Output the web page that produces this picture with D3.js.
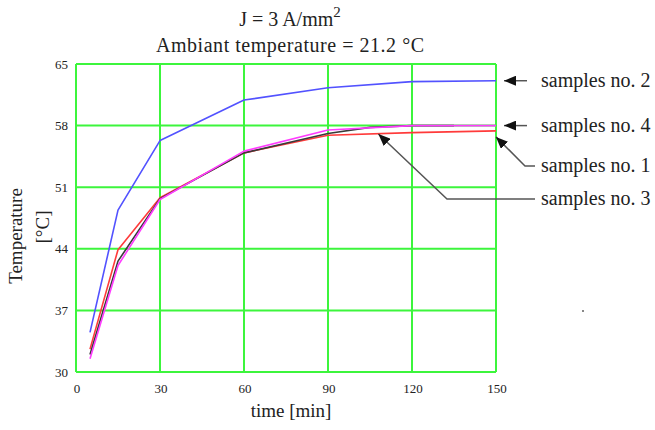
<!DOCTYPE html>
<html>
<head>
<meta charset="utf-8">
<script src="https://cdn.jsdelivr.net/npm/d3@7"></script>
<style>
  html, body { margin: 0; padding: 0; background: #fff; }
  svg text { font-family: "Liberation Serif", "Times New Roman", serif; fill: #222; }
</style>
</head>
<body>
<svg id="chart" width="655" height="430"></svg>
<script>
// Heating curves, temperature vs. time for four samples
const xTicks = [0, 30, 60, 90, 120, 150];
const yTicks = [30, 37, 44, 51, 58, 65];

const sample1Time = [5, 15, 30, 60, 90, 120, 150];
const sample1Temp = [32.6, 43.9, 49.8, 54.9, 56.9, 57.2, 57.4];

const sample2Time = [5, 15, 30, 60, 90, 120, 150];
const sample2Temp = [34.5, 48.4, 56.3, 60.9, 62.3, 63.0, 63.1];

const sample3Time = [5, 15, 30, 60, 90, 105, 120, 135];
const sample3Temp = [32.0, 42.6, 49.7, 54.9, 57.1, 57.8, 58.0, 58.0];

const sample4Time = [5, 15, 30, 60, 90, 120, 150];
const sample4Temp = [31.5, 42.1, 49.6, 55.1, 57.5, 58.0, 58.0];

const seriesNames = ["samples no. 1", "samples no. 2", "samples no. 3", "samples no. 4"];
const seriesColors = ["#ff3a3a", "#5252ff", "#3a3a3a", "#ff3cff"];

const series = [
  { name: seriesNames[0], color: seriesColors[0], pts: sample1Time.map((t, i) => [t, sample1Temp[i]]) },
  { name: seriesNames[1], color: seriesColors[1], pts: sample2Time.map((t, i) => [t, sample2Temp[i]]) },
  { name: seriesNames[2], color: seriesColors[2], pts: sample3Time.map((t, i) => [t, sample3Temp[i]]) },
  { name: seriesNames[3], color: seriesColors[3], pts: sample4Time.map((t, i) => [t, sample4Temp[i]]) }
];

const svg = d3.select("#chart");
const x = d3.scaleLinear().domain([0, 150]).range([76, 496]);
const y = d3.scaleLinear().domain([30, 65]).range([372, 64]);
const grid = "#3cf53c";

// grid and frame
svg.append("g").selectAll("line").data(xTicks).join("line")
  .attr("x1", d => x(d)).attr("x2", d => x(d))
  .attr("y1", y(30)).attr("y2", y(65))
  .attr("stroke", grid).attr("stroke-width", 2);
svg.append("g").selectAll("line").data(yTicks).join("line")
  .attr("x1", x(0)).attr("x2", x(150))
  .attr("y1", d => y(d)).attr("y2", d => y(d))
  .attr("stroke", grid).attr("stroke-width", 2);

// tick labels
svg.append("g").selectAll("text").data(yTicks).join("text")
  .attr("x", 68).attr("y", d => y(d) + 4.5)
  .attr("text-anchor", "end").attr("font-size", 13)
  .text(d => d);
svg.append("g").selectAll("text").data(xTicks).join("text")
  .attr("x", d => x(d) + 1).attr("y", 393)
  .attr("text-anchor", "middle").attr("font-size", 13)
  .text(d => d);

// curves (red, black, magenta, blue drawing order)
const line = d3.line().x(d => x(d[0])).y(d => y(d[1]));
[0, 2, 3, 1].forEach(i => {
  svg.append("path").datum(series[i].pts)
    .attr("d", line)
    .attr("fill", "none")
    .attr("stroke", series[i].color)
    .attr("stroke-width", 1.6)
    .attr("stroke-linejoin", "round");
});

// titles
const t1 = svg.append("text").attr("x", 290).attr("y", 26)
  .attr("text-anchor", "middle").attr("font-size", 20);
t1.append("tspan").text("J = 3 A/mm");
t1.append("tspan").attr("font-size", 15).attr("dy", -9).text("2");
svg.append("text").attr("x", 290).attr("y", 52)
  .attr("text-anchor", "middle").attr("font-size", 20)
  .attr("textLength", 268).attr("lengthAdjust", "spacing")
  .text("Ambiant temperature = 21.2 °C");

// axis titles
svg.append("text").attr("x", 291).attr("y", 417)
  .attr("text-anchor", "middle").attr("font-size", 19)
  .text("time [min]");
svg.append("text").attr("transform", "translate(22,236) rotate(-90)")
  .attr("text-anchor", "middle").attr("font-size", 19)
  .text("Temperature");
svg.append("text").attr("transform", "translate(49,227) rotate(-90)")
  .attr("text-anchor", "middle").attr("font-size", 19)
  .text("[°C]");

// labelled arrows
const defs = svg.append("defs");
defs.append("marker").attr("id", "head")
  .attr("viewBox", "0 0 12 10").attr("refX", 12).attr("refY", 5)
  .attr("markerWidth", 12).attr("markerHeight", 10)
  .attr("markerUnits", "userSpaceOnUse").attr("orient", "auto")
  .append("path").attr("d", "M0,0 L12,5 L0,10 Z").attr("fill", "#111");

const labelX = 541;
const last = s => s.pts[s.pts.length - 1];
const s1 = series[0], s2 = series[1], s3 = series[2], s4 = series[3];
const callouts = [
  { s: s2, path: [[527, y(last(s2)[1])], [x(150) + 8, y(last(s2)[1])]], ty: y(last(s2)[1]) },
  { s: s4, path: [[527, y(last(s4)[1])], [x(150) + 8, y(last(s4)[1])]], ty: y(last(s4)[1]) },
  { s: s1, path: [[535, 166], [525, 166], [x(150), y(last(s1)[1]) + 6]], ty: 166 },
  { s: s3, path: [[535, 199], [447, 199], [x(108), y(57.5) + 4]], ty: 199 }
];
callouts.forEach(c => {
  svg.append("path")
    .attr("d", d3.line()(c.path))
    .attr("fill", "none").attr("stroke", "#555").attr("stroke-width", 1.5)
    .attr("marker-end", "url(#head)");
  svg.append("text").attr("x", labelX).attr("y", c.ty + 6)
    .attr("font-size", 20)
    .text(c.s.name);
});

// stray speck in the margin
svg.append("rect").attr("x", 582).attr("y", 310).attr("width", 2).attr("height", 2).attr("fill", "#888");
</script>
</body>
</html>
